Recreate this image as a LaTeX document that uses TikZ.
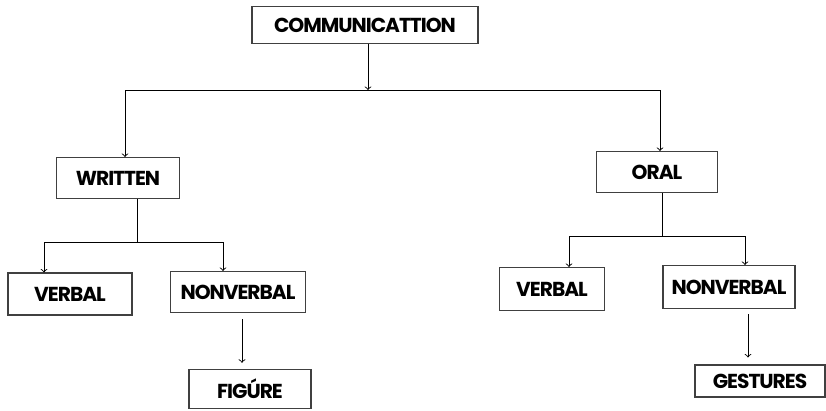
\documentclass[tikz,border=0pt]{standalone}
\usepackage{fontspec}
\setmainfont{Poppins}[LetterSpace=-5]
\begin{document}
\begin{tikzpicture}[x=0.02cm,y=-0.02cm,
  every node/.style={font=\fontsize{11.5}{13}\selectfont\bfseries},
  box/.style={draw=black!75, line width=0.6pt, inner sep=0pt},
  link/.style={line width=0.5pt},
  arr/.style={link, ->, >=to}]
\useasboundingbox (0,0) rectangle (826,410);
\node[box, minimum width=226*0.02cm, minimum height=37*0.02cm] (comm) at (365,25) {COMMUNICATTION};
\node[box, minimum width=123*0.02cm, minimum height=41*0.02cm] (written) at (118,178) {WRITTEN};
\node[box, minimum width=121*0.02cm, minimum height=41*0.02cm] (oral) at (657,172) {ORAL};
\node[box, minimum width=124*0.02cm, minimum height=42*0.02cm] (wverbal) at (70,294) {VERBAL};
\node[box, minimum width=135*0.02cm, minimum height=41*0.02cm] (wnonverbal) at (238,292) {NONVERBAL};
\node[box, minimum width=122*0.02cm, minimum height=39*0.02cm] (figure) at (250,389) {FIGÚRE};
\node[box, minimum width=105*0.02cm, minimum height=43*0.02cm] (overbal) at (552,289) {VERBAL};
\node[box, minimum width=132*0.02cm, minimum height=43*0.02cm] (ononverbal) at (729,287) {NONVERBAL};
\node[box, minimum width=130*0.02cm, minimum height=32*0.02cm] (gestures) at (760,381) {GESTURES};
% main split
\coordinate (split) at (368,90);
\coordinate (lsplit) at (125,90);
\coordinate (rsplit) at (660,90);
\draw[arr] (comm.south -| split) -- (split);
\draw[link] (lsplit) -- (rsplit);
\draw[arr] (lsplit) -- (lsplit |- written.north);
\draw[arr] (rsplit) -- (rsplit |- oral.north);
% written
\coordinate (wjoin) at (137,242);
\coordinate (wl) at (44,242);
\coordinate (wr) at (223,242);
\draw[link] (wjoin |- written.south) -- (wjoin);
\draw[link] (wl) -- (wr);
\draw[arr] (wl) -- (wl |- wverbal.north);
\draw[arr] (wr) -- (wr |- wnonverbal.north);
\coordinate (wdown) at (242,0);
\draw[arr, shorten <=3.5pt, shorten >=3.5pt] (wdown |- wnonverbal.south) -- (wdown |- figure.north);
% oral
\coordinate (ojoin) at (662,236);
\coordinate (ol) at (569,236);
\coordinate (or) at (745,236);
\draw[link] (ojoin |- oral.south) -- (ojoin);
\draw[link] (ol) -- (or);
\draw[arr] (ol) -- (ol |- overbal.north);
\draw[arr] (or) -- (or |- ononverbal.north);
\coordinate (odown) at (748,0);
\draw[arr, shorten <=3pt, shorten >=4pt] (odown |- ononverbal.south) -- (odown |- gestures.north);
\end{tikzpicture}
\end{document}
